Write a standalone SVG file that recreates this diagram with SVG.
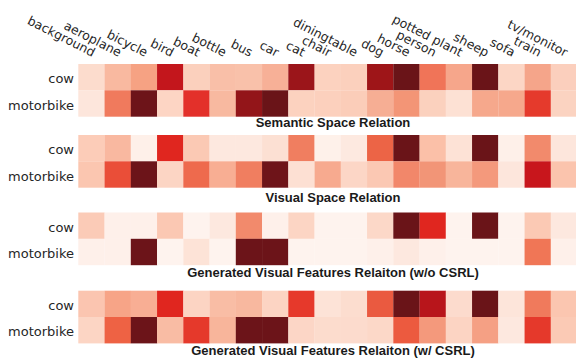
<svg xmlns="http://www.w3.org/2000/svg" width="576" height="360" viewBox="0 0 576 360">
  <style>
    .col { font-family: "DejaVu Sans", Verdana, sans-serif; font-size: 12.5px; fill: #262626; text-anchor: end; }
    .row { font-family: "DejaVu Sans", Verdana, sans-serif; font-size: 13px; fill: #262626; text-anchor: end; }
    .title { font-family: "Liberation Sans", Arial, sans-serif; font-size: 13px; font-weight: bold; fill: #1a1a1a; text-anchor: middle; }
    rect { stroke: none; }
  </style>
  <rect x="0" y="0" width="576" height="360" fill="#ffffff"/>

  <!-- class names along the top, rotated -->
  <g id="column-labels">
    <text class="col" x="92.4" y="57" transform="rotate(27 92.4 57)">background</text>
    <text class="col" x="118.7" y="57" transform="rotate(27 118.7 57)">aeroplane</text>
    <text class="col" x="144.9" y="57" transform="rotate(27 144.9 57)">bicycle</text>
    <text class="col" x="171.2" y="57" transform="rotate(27 171.2 57)">bird</text>
    <text class="col" x="197.4" y="57" transform="rotate(27 197.4 57)">boat</text>
    <text class="col" x="223.7" y="57" transform="rotate(27 223.7 57)">bottle</text>
    <text class="col" x="249.9" y="57" transform="rotate(27 249.9 57)">bus</text>
    <text class="col" x="276.2" y="57" transform="rotate(27 276.2 57)">car</text>
    <text class="col" x="302.4" y="57" transform="rotate(27 302.4 57)">cat</text>
    <text class="col" x="328.7" y="57" transform="rotate(27 328.7 57)">chair</text>
    <text class="col" x="354.9" y="57" transform="rotate(27 354.9 57)">diningtable</text>
    <text class="col" x="381.2" y="57" transform="rotate(27 381.2 57)">dog</text>
    <text class="col" x="407.4" y="57" transform="rotate(27 407.4 57)">horse</text>
    <text class="col" x="433.7" y="57" transform="rotate(27 433.7 57)">person</text>
    <text class="col" x="459.9" y="57" transform="rotate(27 459.9 57)">potted plant</text>
    <text class="col" x="486.2" y="57" transform="rotate(27 486.2 57)">sheep</text>
    <text class="col" x="512.4" y="57" transform="rotate(27 512.4 57)">sofa</text>
    <text class="col" x="538.7" y="57" transform="rotate(27 538.7 57)">train</text>
    <text class="col" x="564.9" y="57" transform="rotate(27 564.9 57)">tv/monitor</text>
  </g>

  <!-- Semantic space relation -->
  <g id="panel-semantic">
    <text class="row" x="74" y="83">cow</text>
    <text class="row" x="74" y="109.5">motorbike</text>
    <g transform="translate(78.3 64)">
      <rect x="0" y="0" width="26.4" height="26.4" fill="#fcdccd"/>
      <rect x="26.25" y="0" width="26.4" height="26.4" fill="#f9b9a0"/>
      <rect x="52.5" y="0" width="26.4" height="26.4" fill="#f6a283"/>
      <rect x="78.75" y="0" width="26.4" height="26.4" fill="#c3161c"/>
      <rect x="105" y="0" width="26.4" height="26.4" fill="#fbd0bd"/>
      <rect x="131.25" y="0" width="26.4" height="26.4" fill="#f9bfa8"/>
      <rect x="157.5" y="0" width="26.4" height="26.4" fill="#f9c1aa"/>
      <rect x="183.75" y="0" width="26.4" height="26.4" fill="#f7b097"/>
      <rect x="210" y="0" width="26.4" height="26.4" fill="#9b151a"/>
      <rect x="236.25" y="0" width="26.4" height="26.4" fill="#fcd2bf"/>
      <rect x="262.5" y="0" width="26.4" height="26.4" fill="#fbd0bd"/>
      <rect x="288.75" y="0" width="26.4" height="26.4" fill="#9e1518"/>
      <rect x="315" y="0" width="26.4" height="26.4" fill="#6a1418"/>
      <rect x="341.25" y="0" width="26.4" height="26.4" fill="#f07458"/>
      <rect x="367.5" y="0" width="26.4" height="26.4" fill="#f6a68b"/>
      <rect x="393.75" y="0" width="26.4" height="26.4" fill="#6a1418"/>
      <rect x="420" y="0" width="26.4" height="26.4" fill="#fcd6c5"/>
      <rect x="446.25" y="0" width="26.4" height="26.4" fill="#f5a58a"/>
      <rect x="472.5" y="0" width="26.4" height="26.4" fill="#fbcfbd"/>

      <rect x="0" y="26.3" width="26.4" height="26.4" fill="#fde6dc"/>
      <rect x="26.25" y="26.3" width="26.4" height="26.4" fill="#f07a5d"/>
      <rect x="52.5" y="26.3" width="26.4" height="26.4" fill="#6d1419"/>
      <rect x="78.75" y="26.3" width="26.4" height="26.4" fill="#fdd5c4"/>
      <rect x="105" y="26.3" width="26.4" height="26.4" fill="#e3302a"/>
      <rect x="131.25" y="26.3" width="26.4" height="26.4" fill="#f8b9a0"/>
      <rect x="157.5" y="26.3" width="26.4" height="26.4" fill="#931519"/>
      <rect x="183.75" y="26.3" width="26.4" height="26.4" fill="#6a1418"/>
      <rect x="210" y="26.3" width="26.4" height="26.4" fill="#fcd2bf"/>
      <rect x="236.25" y="26.3" width="26.4" height="26.4" fill="#fcd0bd"/>
      <rect x="262.5" y="26.3" width="26.4" height="26.4" fill="#fbcdb9"/>
      <rect x="288.75" y="26.3" width="26.4" height="26.4" fill="#f6ae94"/>
      <rect x="315" y="26.3" width="26.4" height="26.4" fill="#f39576"/>
      <rect x="341.25" y="26.3" width="26.4" height="26.4" fill="#fbd1be"/>
      <rect x="367.5" y="26.3" width="26.4" height="26.4" fill="#fde1d4"/>
      <rect x="393.75" y="26.3" width="26.4" height="26.4" fill="#f6a88c"/>
      <rect x="420" y="26.3" width="26.4" height="26.4" fill="#f6a88c"/>
      <rect x="446.25" y="26.3" width="26.4" height="26.4" fill="#e53a2c"/>
      <rect x="472.5" y="26.3" width="26.4" height="26.4" fill="#fbd3c1"/>
    </g>
    <text class="title" x="333" y="127">Semantic Space Relation</text>
  </g>

  <!-- Visual space relation -->
  <g id="panel-visual">
    <text class="row" x="74" y="154">cow</text>
    <text class="row" x="74" y="180.5">motorbike</text>
    <g transform="translate(78.3 135)">
      <rect x="0" y="0" width="26.4" height="26.4" fill="#fcccb8"/>
      <rect x="26.25" y="0" width="26.4" height="26.4" fill="#f9b8a0"/>
      <rect x="52.5" y="0" width="26.4" height="26.4" fill="#fef0e9"/>
      <rect x="78.75" y="0" width="26.4" height="26.4" fill="#e0261f"/>
      <rect x="105" y="0" width="26.4" height="26.4" fill="#fbc9b4"/>
      <rect x="131.25" y="0" width="26.4" height="26.4" fill="#fde8df"/>
      <rect x="157.5" y="0" width="26.4" height="26.4" fill="#fde8df"/>
      <rect x="183.75" y="0" width="26.4" height="26.4" fill="#fce0d3"/>
      <rect x="210" y="0" width="26.4" height="26.4" fill="#f07e60"/>
      <rect x="236.25" y="0" width="26.4" height="26.4" fill="#fef1ea"/>
      <rect x="262.5" y="0" width="26.4" height="26.4" fill="#fde9e0"/>
      <rect x="288.75" y="0" width="26.4" height="26.4" fill="#ec6446"/>
      <rect x="315" y="0" width="26.4" height="26.4" fill="#6a1418"/>
      <rect x="341.25" y="0" width="26.4" height="26.4" fill="#fbc0a8"/>
      <rect x="367.5" y="0" width="26.4" height="26.4" fill="#fde2d6"/>
      <rect x="393.75" y="0" width="26.4" height="26.4" fill="#6a1418"/>
      <rect x="420" y="0" width="26.4" height="26.4" fill="#fef0e9"/>
      <rect x="446.25" y="0" width="26.4" height="26.4" fill="#f28a6c"/>
      <rect x="472.5" y="0" width="26.4" height="26.4" fill="#fde6dc"/>

      <rect x="0" y="26.3" width="26.4" height="26.4" fill="#fbc6b0"/>
      <rect x="26.25" y="26.3" width="26.4" height="26.4" fill="#ea4e38"/>
      <rect x="52.5" y="26.3" width="26.4" height="26.4" fill="#6c1419"/>
      <rect x="78.75" y="26.3" width="26.4" height="26.4" fill="#fcd5c4"/>
      <rect x="105" y="26.3" width="26.4" height="26.4" fill="#ee6a4d"/>
      <rect x="131.25" y="26.3" width="26.4" height="26.4" fill="#f8ae93"/>
      <rect x="157.5" y="26.3" width="26.4" height="26.4" fill="#f07e60"/>
      <rect x="183.75" y="26.3" width="26.4" height="26.4" fill="#6e1419"/>
      <rect x="210" y="26.3" width="26.4" height="26.4" fill="#fde0d3"/>
      <rect x="236.25" y="26.3" width="26.4" height="26.4" fill="#f7aa8f"/>
      <rect x="262.5" y="26.3" width="26.4" height="26.4" fill="#fcd6c6"/>
      <rect x="288.75" y="26.3" width="26.4" height="26.4" fill="#fbc8b3"/>
      <rect x="315" y="26.3" width="26.4" height="26.4" fill="#f2876a"/>
      <rect x="341.25" y="26.3" width="26.4" height="26.4" fill="#f29577"/>
      <rect x="367.5" y="26.3" width="26.4" height="26.4" fill="#f8b59b"/>
      <rect x="393.75" y="26.3" width="26.4" height="26.4" fill="#f4997c"/>
      <rect x="420" y="26.3" width="26.4" height="26.4" fill="#fde6dc"/>
      <rect x="446.25" y="26.3" width="26.4" height="26.4" fill="#c8161c"/>
      <rect x="472.5" y="26.3" width="26.4" height="26.4" fill="#fbc4ad"/>
    </g>
    <text class="title" x="333" y="202">Visual Space Relation</text>
  </g>

  <!-- Generated visual features relation without CSRL -->
  <g id="panel-generated-wo">
    <text class="row" x="74" y="231.5">cow</text>
    <text class="row" x="74" y="258">motorbike</text>
    <g transform="translate(78.3 212.5)">
      <rect x="0" y="0" width="26.4" height="26.4" fill="#fbcbb7"/>
      <rect x="26.25" y="0" width="26.4" height="26.4" fill="#fef0ea"/>
      <rect x="52.5" y="0" width="26.4" height="26.4" fill="#fef0ea"/>
      <rect x="78.75" y="0" width="26.4" height="26.4" fill="#fbc8b3"/>
      <rect x="105" y="0" width="26.4" height="26.4" fill="#fef3ee"/>
      <rect x="131.25" y="0" width="26.4" height="26.4" fill="#fde8df"/>
      <rect x="157.5" y="0" width="26.4" height="26.4" fill="#f28a6c"/>
      <rect x="183.75" y="0" width="26.4" height="26.4" fill="#fef0ea"/>
      <rect x="210" y="0" width="26.4" height="26.4" fill="#fcd5c4"/>
      <rect x="236.25" y="0" width="26.4" height="26.4" fill="#fef3ee"/>
      <rect x="262.5" y="0" width="26.4" height="26.4" fill="#fef3ee"/>
      <rect x="288.75" y="0" width="26.4" height="26.4" fill="#fcd8c8"/>
      <rect x="315" y="0" width="26.4" height="26.4" fill="#6a1418"/>
      <rect x="341.25" y="0" width="26.4" height="26.4" fill="#e0261f"/>
      <rect x="367.5" y="0" width="26.4" height="26.4" fill="#fef3ee"/>
      <rect x="393.75" y="0" width="26.4" height="26.4" fill="#6a1418"/>
      <rect x="420" y="0" width="26.4" height="26.4" fill="#fef3ee"/>
      <rect x="446.25" y="0" width="26.4" height="26.4" fill="#fbc9b4"/>
      <rect x="472.5" y="0" width="26.4" height="26.4" fill="#fde8df"/>

      <rect x="0" y="26.3" width="26.4" height="26.4" fill="#fef0ea"/>
      <rect x="26.25" y="26.3" width="26.4" height="26.4" fill="#fef0ea"/>
      <rect x="52.5" y="26.3" width="26.4" height="26.4" fill="#6c1419"/>
      <rect x="78.75" y="26.3" width="26.4" height="26.4" fill="#fef3ee"/>
      <rect x="105" y="26.3" width="26.4" height="26.4" fill="#fde3d7"/>
      <rect x="131.25" y="26.3" width="26.4" height="26.4" fill="#fef3ee"/>
      <rect x="157.5" y="26.3" width="26.4" height="26.4" fill="#6c1419"/>
      <rect x="183.75" y="26.3" width="26.4" height="26.4" fill="#6c1419"/>
      <rect x="210" y="26.3" width="26.4" height="26.4" fill="#fef3ee"/>
      <rect x="236.25" y="26.3" width="26.4" height="26.4" fill="#fef3ee"/>
      <rect x="262.5" y="26.3" width="26.4" height="26.4" fill="#fef3ee"/>
      <rect x="288.75" y="26.3" width="26.4" height="26.4" fill="#fef0ea"/>
      <rect x="315" y="26.3" width="26.4" height="26.4" fill="#fde8df"/>
      <rect x="341.25" y="26.3" width="26.4" height="26.4" fill="#fef0ea"/>
      <rect x="367.5" y="26.3" width="26.4" height="26.4" fill="#fef3ee"/>
      <rect x="393.75" y="26.3" width="26.4" height="26.4" fill="#fef3ee"/>
      <rect x="420" y="26.3" width="26.4" height="26.4" fill="#fef3ee"/>
      <rect x="446.25" y="26.3" width="26.4" height="26.4" fill="#f07656"/>
      <rect x="472.5" y="26.3" width="26.4" height="26.4" fill="#fef0ea"/>
    </g>
    <text class="title" x="333" y="277">Generated Visual Features Relaiton (w/o CSRL)</text>
  </g>

  <!-- Generated visual features relation with CSRL -->
  <g id="panel-generated-w">
    <text class="row" x="74" y="309.5">cow</text>
    <text class="row" x="74" y="336">motorbike</text>
    <g transform="translate(78.3 290.7)">
      <rect x="0" y="0" width="26.4" height="26.4" fill="#fbc5b0"/>
      <rect x="26.25" y="0" width="26.4" height="26.4" fill="#f7a487"/>
      <rect x="52.5" y="0" width="26.4" height="26.4" fill="#f8ae94"/>
      <rect x="78.75" y="0" width="26.4" height="26.4" fill="#e0261f"/>
      <rect x="105" y="0" width="26.4" height="26.4" fill="#fcd4c3"/>
      <rect x="131.25" y="0" width="26.4" height="26.4" fill="#f9bda5"/>
      <rect x="157.5" y="0" width="26.4" height="26.4" fill="#f8b89f"/>
      <rect x="183.75" y="0" width="26.4" height="26.4" fill="#fcd4c3"/>
      <rect x="210" y="0" width="26.4" height="26.4" fill="#e6392b"/>
      <rect x="236.25" y="0" width="26.4" height="26.4" fill="#fde3d7"/>
      <rect x="262.5" y="0" width="26.4" height="26.4" fill="#fcddcf"/>
      <rect x="288.75" y="0" width="26.4" height="26.4" fill="#ea5a40"/>
      <rect x="315" y="0" width="26.4" height="26.4" fill="#6a1418"/>
      <rect x="341.25" y="0" width="26.4" height="26.4" fill="#b8151b"/>
      <rect x="367.5" y="0" width="26.4" height="26.4" fill="#fcdbcd"/>
      <rect x="393.75" y="0" width="26.4" height="26.4" fill="#6a1418"/>
      <rect x="420" y="0" width="26.4" height="26.4" fill="#fde5da"/>
      <rect x="446.25" y="0" width="26.4" height="26.4" fill="#f07a5c"/>
      <rect x="472.5" y="0" width="26.4" height="26.4" fill="#fbc6b0"/>

      <rect x="0" y="26.3" width="26.4" height="26.4" fill="#fcd5c4"/>
      <rect x="26.25" y="26.3" width="26.4" height="26.4" fill="#ee6244"/>
      <rect x="52.5" y="26.3" width="26.4" height="26.4" fill="#6c1419"/>
      <rect x="78.75" y="26.3" width="26.4" height="26.4" fill="#f9bca4"/>
      <rect x="105" y="26.3" width="26.4" height="26.4" fill="#e5392b"/>
      <rect x="131.25" y="26.3" width="26.4" height="26.4" fill="#f8b59b"/>
      <rect x="157.5" y="26.3" width="26.4" height="26.4" fill="#6c1419"/>
      <rect x="183.75" y="26.3" width="26.4" height="26.4" fill="#6c1419"/>
      <rect x="210" y="26.3" width="26.4" height="26.4" fill="#fcd6c6"/>
      <rect x="236.25" y="26.3" width="26.4" height="26.4" fill="#fcdccd"/>
      <rect x="262.5" y="26.3" width="26.4" height="26.4" fill="#fcdbcd"/>
      <rect x="288.75" y="26.3" width="26.4" height="26.4" fill="#fcd8c8"/>
      <rect x="315" y="26.3" width="26.4" height="26.4" fill="#ec5a3f"/>
      <rect x="341.25" y="26.3" width="26.4" height="26.4" fill="#f4997c"/>
      <rect x="367.5" y="26.3" width="26.4" height="26.4" fill="#fcd4c3"/>
      <rect x="393.75" y="26.3" width="26.4" height="26.4" fill="#f5a084"/>
      <rect x="420" y="26.3" width="26.4" height="26.4" fill="#fde8df"/>
      <rect x="446.25" y="26.3" width="26.4" height="26.4" fill="#e5392b"/>
      <rect x="472.5" y="26.3" width="26.4" height="26.4" fill="#fbcab5"/>
    </g>
    <text class="title" x="333" y="355">Generated Visual Features Relaiton (w/ CSRL)</text>
  </g>
</svg>
